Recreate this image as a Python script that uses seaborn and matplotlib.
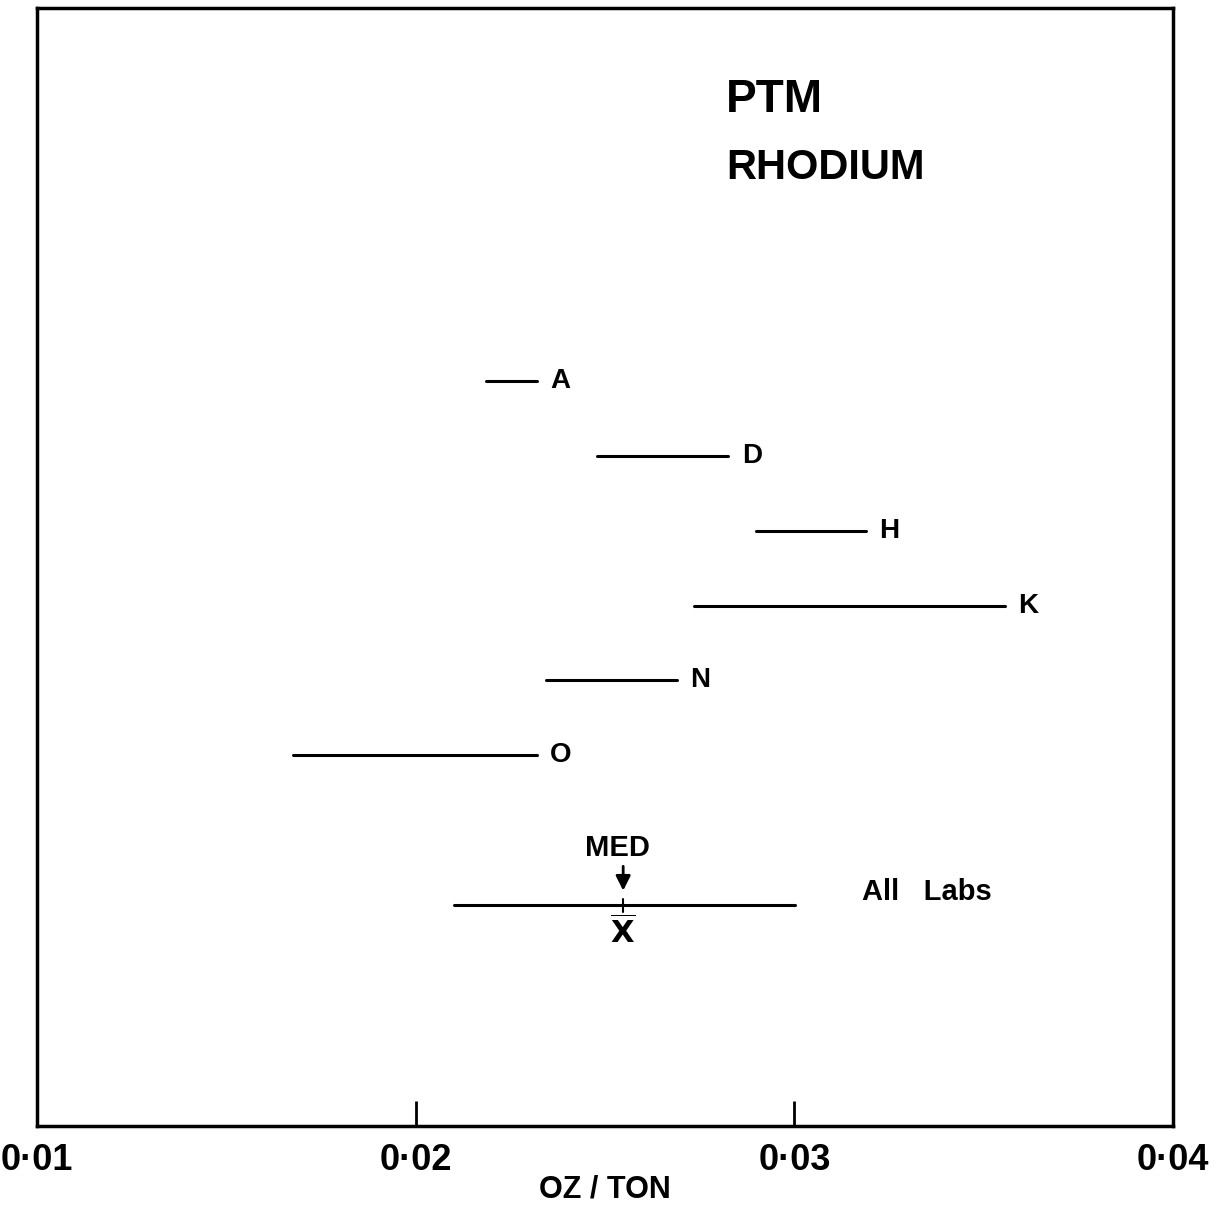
import matplotlib
matplotlib.use("Agg")
import matplotlib.pyplot as plt
import seaborn as sns
import pandas as pd

# ---- data ----
labs = ["A", "D", "H", "K", "N", "O"]
low = [0.02187, 0.02479, 0.02900, 0.02736, 0.02344, 0.01676]
high = [0.02320, 0.02826, 0.03189, 0.03557, 0.02691, 0.02320]
row = [0, 1, 2, 3, 4, 5]
all_low, all_high, all_med = 0.02100, 0.03001, 0.02548
all_row = 7
xticks = [0.01, 0.02, 0.03, 0.04]
xticklabels = ["0·01", "0·02", "0·03", "0·04"]

sns.set_style("white")
plt.rcParams["font.family"] = ["Liberation Sans", "DejaVu Sans"]
plt.rcParams["text.color"] = "black"
plt.rcParams["xtick.color"] = "black"
plt.rcParams["axes.labelcolor"] = "black"

records = []
for lab, lo, hi, r in zip(labs, low, high, row):
    records.append({"lab": lab, "x": lo, "y": r})
    records.append({"lab": lab, "x": hi, "y": r})
records.append({"lab": "All", "x": all_low, "y": all_row})
records.append({"lab": "All", "x": all_high, "y": all_row})
df = pd.DataFrame(records)

fig = plt.figure(figsize=(12.24, 12.10), dpi=100)
ax = fig.add_axes([37 / 1224, 1 - 1126 / 1210, (1173 - 37) / 1224, (1126 - 8) / 1210])

sns.lineplot(data=df, x="x", y="y", units="lab", estimator=None, sort=False,
             color="black", lw=2.2, ax=ax, legend=False)

for lab, hi, r in zip(labs, high, row):
    ax.text(hi + 0.00035, r, lab, ha="left", va="center", fontsize=20, fontweight="bold")

# All labs annotations
ax.plot([all_med, all_med], [all_row - 0.08, all_row + 0.1], color="black", lw=1.5)
ax.annotate("", xy=(all_med, all_row - 0.15), xytext=(all_med, all_row - 0.55),
            arrowprops=dict(arrowstyle="-|>", color="black", lw=2, mutation_scale=22))
ax.text(all_med - 0.00015, all_row - 0.76, "MED", ha="center", va="center",
        fontsize=21, fontweight="bold")
ax.text(all_med, all_row + 0.38, r"$\overline{\mathbf{X}}$", ha="center", va="center",
        fontsize=22)
ax.text(0.0318, all_row - 0.17, "All   Labs", ha="left", va="center",
        fontsize=21, fontweight="bold")

ax.text(0.0282, -3.76, "PTM", ha="left", va="center", fontsize=33, fontweight="bold")
ax.text(0.0282, -2.85, "RHODIUM", ha="left", va="center", fontsize=30, fontweight="bold")

ax.set_xlim(0.01, 0.04)
ax.set_ylim(9.96, -4.99)
ax.set_xticks(xticks)
ax.set_xticklabels(xticklabels, fontsize=26, fontweight="bold")
ax.set_yticks([])
ax.set_ylabel("")
ax.set_xlabel("OZ / TON", fontsize=22, fontweight="bold", labelpad=-2)
ax.tick_params(axis="x", direction="in", length=18, width=2, pad=12, bottom=True)
for s in ax.spines.values():
    s.set_linewidth(2.5)
    s.set_color("black")
    s.set_visible(True)

fig.savefig("out.png", dpi=100, facecolor="white")
